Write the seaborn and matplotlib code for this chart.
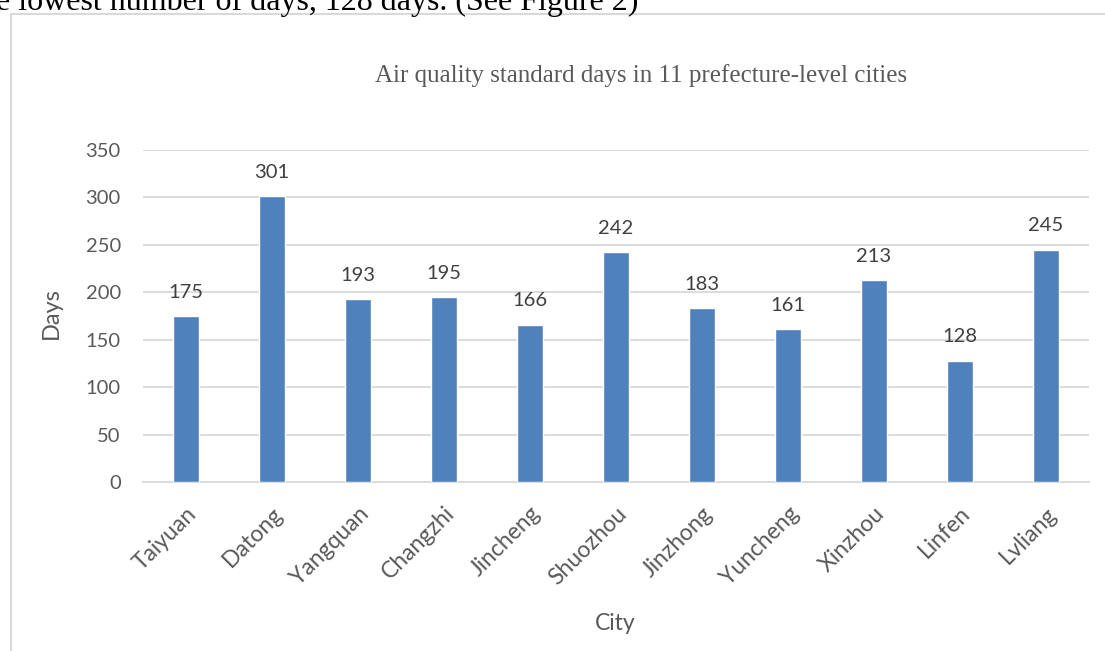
import matplotlib
matplotlib.use('Agg')
import matplotlib.pyplot as plt
from matplotlib.lines import Line2D
import pandas as pd
import seaborn as sns

cities = ['Taiyuan', 'Datong', 'Yangquan', 'Changzhi', 'Jincheng', 'Shuozhou',
          'Jinzhong', 'Yuncheng', 'Xinzhou', 'Linfen', 'Lvliang']
days = [175, 301, 193, 195, 166, 242, 183, 161, 213, 128, 245]
yticks = [0, 50, 100, 150, 200, 250, 300, 350]

sns.set_theme(style='white')
plt.rcParams['font.family'] = ['Lato', 'DejaVu Sans']

df = pd.DataFrame({'City': cities, 'Days': days})

fig = plt.figure(figsize=(11.05, 6.51), dpi=100)
ax = fig.add_axes([0.1294, 0.2596, 0.856, 0.51])

sns.barplot(data=df, x='City', y='Days', color='#4f81bd', width=0.31,
            saturation=1, ax=ax, zorder=3)

ax.set_ylim(0, 350)
ax.set_yticks(yticks)
ax.set_xlim(-0.5, len(cities) - 0.5)
ax.yaxis.grid(True, color='#d9d9d9', linewidth=1.3, zorder=0)
ax.set_axisbelow(True)
for s in ['top', 'right', 'left']:
    ax.spines[s].set_visible(False)
ax.spines['bottom'].set_color('#d9d9d9')
ax.spines['bottom'].set_linewidth(1.3)
ax.tick_params(axis='both', length=0, labelcolor='#595959')
ax.tick_params(axis='y', pad=16, labelsize=14.5)
ax.tick_params(axis='x', pad=15, labelsize=16.5)
plt.setp(ax.get_xticklabels(), rotation=45, ha='right', rotation_mode='anchor')

for i, v in enumerate(days):
    ax.annotate(str(v), (i, v), xytext=(0, 11), textcoords='offset points',
                ha='center', va='bottom', fontsize=14.5, color='#404040')

ax.set_xlabel('City', fontsize=16.5, color='#595959')
ax.set_ylabel('Days', fontsize=17, color='#595959')
ax.xaxis.set_label_coords((615 - 143) / 946, (482 - 613) / 332)
ax.yaxis.set_label_coords((62 - 143) / 946, (482 - 313) / 332)

fig.text(641 / 1105, 1 - 76 / 651, 'Air quality standard days in 11 prefecture-level cities',
         ha='center', va='center', fontsize=18, color='#595959',
         family='Liberation Serif')

fig.text(-0.004, 1 - 10 / 651, 'e lowest number of days, 128 days. (See Figure 2)',
         ha='left', va='baseline', fontsize=23, color='black',
         family='Liberation Serif')

fig.add_artist(Line2D([11 / 1105, 11 / 1105], [0, 1 - 14 / 651],
                      transform=fig.transFigure, color='#d9d9d9', linewidth=1.5))
fig.add_artist(Line2D([11 / 1105, 1], [1 - 14 / 651, 1 - 14 / 651],
                      transform=fig.transFigure, color='#d9d9d9', linewidth=1.5))

fig.savefig('out.png', dpi=100)
